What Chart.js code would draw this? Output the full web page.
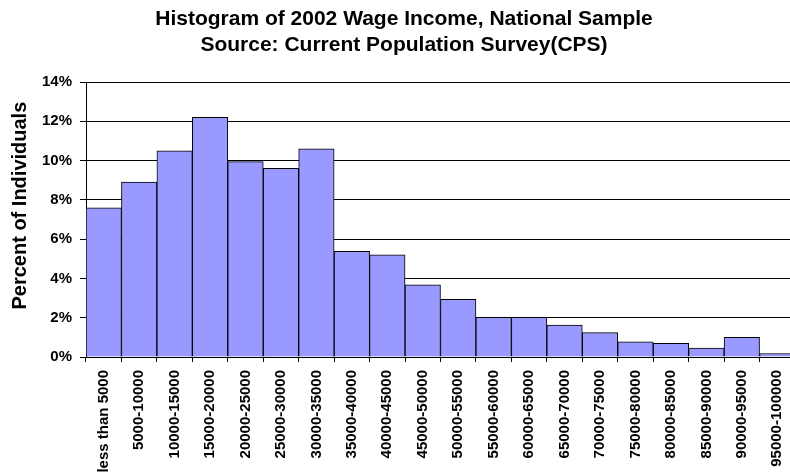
<!DOCTYPE html>
<html>
<head>
<meta charset="utf-8">
<script src="https://cdn.jsdelivr.net/npm/chart.js@4.4.0/dist/chart.umd.min.js"></script>
<style>
  html, body { margin: 0; padding: 0; background: #fff; overflow: hidden; }
  #wrap { width: 808px; height: 475px; }
</style>
</head>
<body>
<div id="wrap"><canvas id="chartcontainer"></canvas></div>
<script>
var categories = ["less than 5000", "5000-10000", "10000-15000", "15000-20000", "20000-25000",
    "25000-30000", "30000-35000", "35000-40000", "40000-45000", "45000-50000",
    "50000-55000", "55000-60000", "60000-65000", "65000-70000", "70000-75000",
    "75000-80000", "80000-85000", "85000-90000", "90000-95000", "95000-100000"];
var percents = [7.6, 8.9, 10.5, 12.2, 9.95, 9.6, 10.6, 5.38, 5.2, 3.67,
    2.93, 2.02, 2.02, 1.62, 1.24, 0.77, 0.69, 0.46, 1.0, 0.18];
var titleLines = ["Histogram of 2002 Wage Income, National Sample", "Source: Current Population Survey(CPS)"];
var yTitle = "Percent of Individuals";

var fontFamily = "'Liberation Sans', Arial, sans-serif";

var ctx = document.getElementById("chartcontainer").getContext('2d');
var chart = new Chart(ctx, {
    type: 'bar',
    data: {
        labels: categories,
        datasets: [{
            data: percents,
            backgroundColor: '#9999ff',
            borderColor: '#000000',
            borderWidth: 1,
            categoryPercentage: 1.0,
            barPercentage: 1.0
        }]
    },
    options: {
        responsive: true,
        maintainAspectRatio: false,
        animation: false,
        // left/right padding keep the title centred where the original has it
        layout: { padding: { left: 13, right: 13, top: 0, bottom: 0 } },
        plugins: {
            legend: { display: false },
            tooltip: { enabled: false },
            title: {
                display: true,
                text: titleLines,
                color: '#000',
                font: { family: fontFamily, size: 21, weight: 'bold', lineHeight: 1.25 },
                padding: { top: 6, bottom: 23.5 }
            }
        },
        scales: {
            x: {
                afterFit: function(scale) { scale.height = 118; }, // labels run off the bottom like the original
                grid: { display: true, drawOnChartArea: false, drawTicks: true, tickLength: 5, color: '#000' },
                border: { display: true, color: '#000', width: 1 },
                ticks: {
                    color: '#000',
                    autoSkip: false,
                    minRotation: 90,
                    maxRotation: 90,
                    padding: 8,
                    font: { family: fontFamily, size: 15, weight: 'bold' }
                }
            },
            y: {
                min: 0,
                max: 14,
                afterFit: function(scale) { scale.width = 73; },
                grid: { color: '#000', lineWidth: 1, tickLength: 6, drawTicks: true },
                border: { display: true, color: '#000', width: 1 },
                ticks: {
                    stepSize: 2,
                    color: '#000',
                    padding: 8,
                    font: { family: fontFamily, size: 15, weight: 'bold' },
                    callback: function(v) { return v + '%'; }
                },
                title: {
                    display: true,
                    text: '     ' + yTitle,
                    color: '#000',
                    font: { family: fontFamily, size: 20, weight: 'bold' },
                    padding: { top: -5, bottom: 0 }
                }
            }
        }
    }
});
</script>
</body>
</html>
